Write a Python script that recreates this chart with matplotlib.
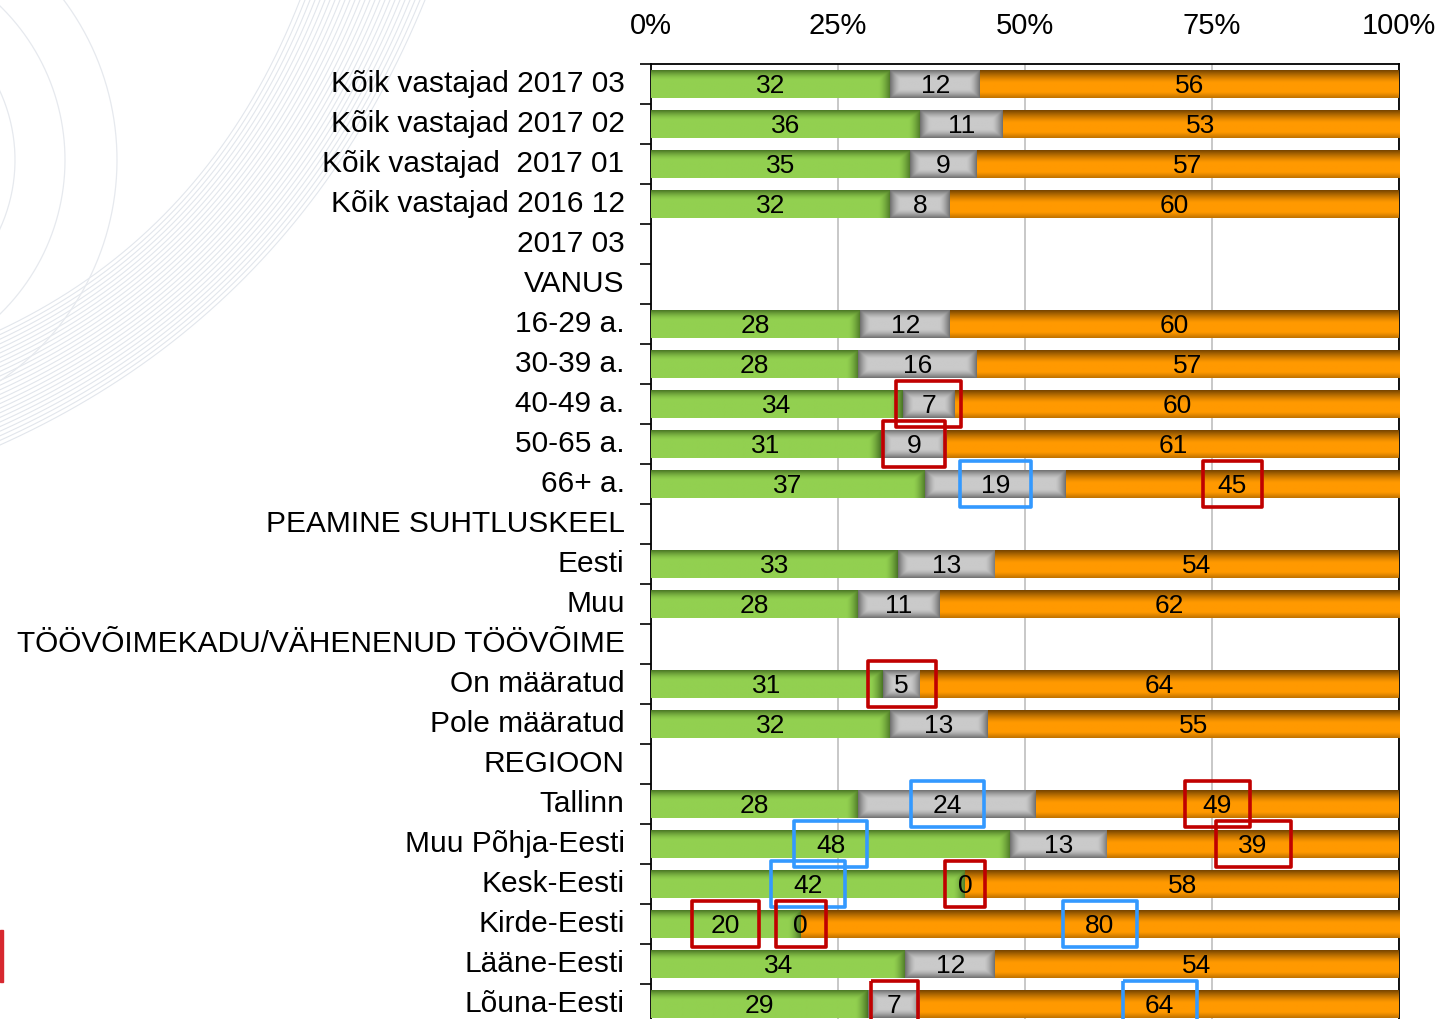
import numpy as np
import matplotlib
matplotlib.use("Agg")
from matplotlib import pyplot as plt
from matplotlib.patches import Rectangle
from matplotlib.transforms import ScaledTranslation

plt.rcParams['font.family'] = ['Liberation Sans', 'DejaVu Sans']

labels = ["Kõik vastajad 2017 03", "Kõik vastajad 2017 02", "Kõik vastajad  2017 01",
          "Kõik vastajad 2016 12", "2017 03", "VANUS", "16-29 a.", "30-39 a.", "40-49 a.",
          "50-65 a.", "66+ a.", "PEAMINE SUHTLUSKEEL", "Eesti", "Muu",
          "TÖÖVÕIMEKADU/VÄHENENUD TÖÖVÕIME", "On määratud", "Pole määratud", "REGIOON",
          "Tallinn", "Muu Põhja-Eesti", "Kesk-Eesti", "Kirde-Eesti", "Lääne-Eesti",
          "Lõuna-Eesti"]
# None = section header, no bar
green = [32, 36, 35, 32, None, None, 28, 28, 34, 31, 37, None, 33, 28, None, 31, 32,
         None, 28, 48, 42, 20, 34, 29]
grey = [12, 11, 9, 8, None, None, 12, 16, 7, 9, 19, None, 13, 11, None, 5, 13,
        None, 24, 13, 0, 0, 12, 7]
orange = [56, 53, 57, 60, None, None, 60, 57, 60, 61, 45, None, 54, 62, None, 64, 55,
          None, 49, 39, 58, 80, 54, 64]
xticklabels = ["0%", "25%", "50%", "75%", "100%"]

# boxes drawn around some value labels: (row, segment, colour, box width in %)
RED, BLUE = "#C00000", "#3399FF"
marked = [(8, 1, RED, 8.7), (9, 1, RED, 8.2), (10, 1, BLUE, 9.4), (10, 2, RED, 7.9),
          (15, 1, RED, 9.1), (18, 1, BLUE, 9.8), (18, 2, RED, 8.6), (19, 0, BLUE, 9.8),
          (19, 2, RED, 10.0), (20, 0, BLUE, 9.9), (20, 1, RED, 5.4), (21, 0, RED, 9.0),
          (21, 1, RED, 6.7), (21, 2, BLUE, 9.9), (23, 1, RED, 6.3), (23, 2, BLUE, 9.9)]

W, H = 1443, 1019
fig = plt.figure(figsize=(W / 100, H / 100), dpi=100)

# faint swirl lines in the background
bg = fig.add_axes([0, 0, 1, 1], zorder=-5)
bg.set_xlim(0, W)
bg.set_ylim(H, 0)
bg.axis('off')
s = np.linspace(0, 1, 200)
for k in range(26):
    xt = 300 + k * 5.0
    yl = 330 + k * 4.6
    c = 0.7
    px = (1 - s) ** 2 * xt + 2 * s * (1 - s) * c * xt
    py = 2 * s * (1 - s) * c * yl + s ** 2 * yl
    bg.plot(px, py, color="#e2e6ec", lw=0.8)
th = np.linspace(-np.pi / 2, np.pi / 2, 300)
for r in (165, 215, 267):
    bg.plot(-150 + r * np.cos(th), 160 + r * np.sin(th), color="#e6e9ee", lw=0.9)
fig.patches.append(Rectangle((0, 1 - 982 / H), 2.5 / W, 52 / H, transform=fig.transFigure,
                             color="#D7282F", zorder=5))

ax = fig.add_axes([651 / W, -5 / H, 748 / W, 960 / H])
ax.patch.set_alpha(0)

n = len(labels)
ypos = np.arange(n)
bh = 0.68


def seg_image(kind, width):
    ny = 40
    nx = max(int(width * 8), 2)
    t = np.linspace(0, 1, ny)[:, None]
    xs = np.linspace(0, width, nx)[None, :]
    if kind == 0:
        base = np.array([0x92, 0xD0, 0x50]) / 255
        dark = np.array([0x4C, 0x78, 0x26]) / 255
        sv = np.clip(1 - t / 0.35, 0, 1) ** 1.6
        sh = np.clip(1 - (width - xs) / 1.6, 0, 1) ** 1.4
        sh2 = np.maximum(np.broadcast_to(sv, (ny, nx)), np.broadcast_to(sh, (ny, nx)))
    elif kind == 1:
        base = np.array([0xCA, 0xCA, 0xCA]) / 255
        dark = np.array([0x72, 0x72, 0x72]) / 255
        sv = np.clip(1 - np.minimum(t, 1 - t) / 0.32, 0, 1) ** 1.5
        d = np.minimum(xs, width - xs)
        sh = np.clip(1 - d / 1.4, 0, 1) ** 1.5
        sh2 = np.maximum(np.broadcast_to(sv, (ny, nx)), np.broadcast_to(sh, (ny, nx)))
    else:
        base = np.array([0xFF, 0x99, 0x00]) / 255
        dark = np.array([0x78, 0x46, 0x00]) / 255
        top = np.clip(1 - t / 0.45, 0, 1) ** 1.3
        bot = np.clip((t - 0.8) / 0.2, 0, 1) * 0.45
        sh2 = np.broadcast_to(np.maximum(top, bot), (ny, nx))
    return base * (1 - sh2[..., None]) + dark * sh2[..., None]


base_cols = ["#92D050", "#C0C0C0", "#FF9900"]
for i in range(n):
    if green[i] is None:
        continue
    vals = np.array([green[i], grey[i], orange[i]], dtype=float)
    shares = vals / vals.sum() * 100
    left = 0.0
    for j in range(3):
        w = shares[j]
        if w > 0:
            bars = ax.barh(ypos[i], w, left=left, height=bh, color=base_cols[j],
                           edgecolor='none', zorder=2, clip_on=False)
            im = ax.imshow(seg_image(j, w), extent=(left, left + w, ypos[i] + bh / 2,
                                                    ypos[i] - bh / 2),
                           aspect='auto', interpolation='bilinear', zorder=3)
            im.set_clip_path(bars.patches[0])
        cx = left + w / 2
        ax.text(cx, ypos[i] + 0.04, f"{int(vals[j])}", ha='center', va='center',
                fontsize=19, zorder=6)
        left += w

for (row, seg, col, bw) in marked:
    vals = np.array([green[row], grey[row], orange[row]], dtype=float)
    shares = vals / vals.sum() * 100
    cx = shares[:seg].sum() + shares[seg] / 2
    ax.add_patch(Rectangle((cx - bw / 2, row - 0.57), bw, 1.14, fill=False,
                           edgecolor=col, lw=2.6, joinstyle='round', zorder=8,
                           clip_on=False))

ax.set_xlim(0, 100)
ax.set_ylim(n - 0.5, -0.5)
ax.set_xticks([0, 25, 50, 75, 100])
ax.set_xticklabels(xticklabels)
ax.xaxis.tick_top()
ax.tick_params(axis='x', length=0, pad=17, labelsize=21)
ax.set_yticks(ypos)
ax.set_yticklabels(labels)
ax.set_yticks(np.arange(n + 1) - 0.5, minor=True)
ax.tick_params(axis='y', which='major', length=0, pad=19, labelsize=21.5)
ax.tick_params(axis='y', which='minor', length=8, width=1.2, direction='out')
# category names sit a little above the bar centres
lift = ScaledTranslation(0, 3 / 100, fig.dpi_scale_trans)
for lab in ax.get_yticklabels():
    lab.set_transform(lab.get_transform() + lift)
ax.grid(axis='x', color='#c8c8c8', lw=1.4, zorder=0)
ax.set_axisbelow(True)
for side in ('left', 'top', 'right'):
    ax.spines[side].set_color('black')
    ax.spines[side].set_linewidth(1.3)
ax.spines['bottom'].set_visible(False)

fig.savefig("out.png", dpi=100)
